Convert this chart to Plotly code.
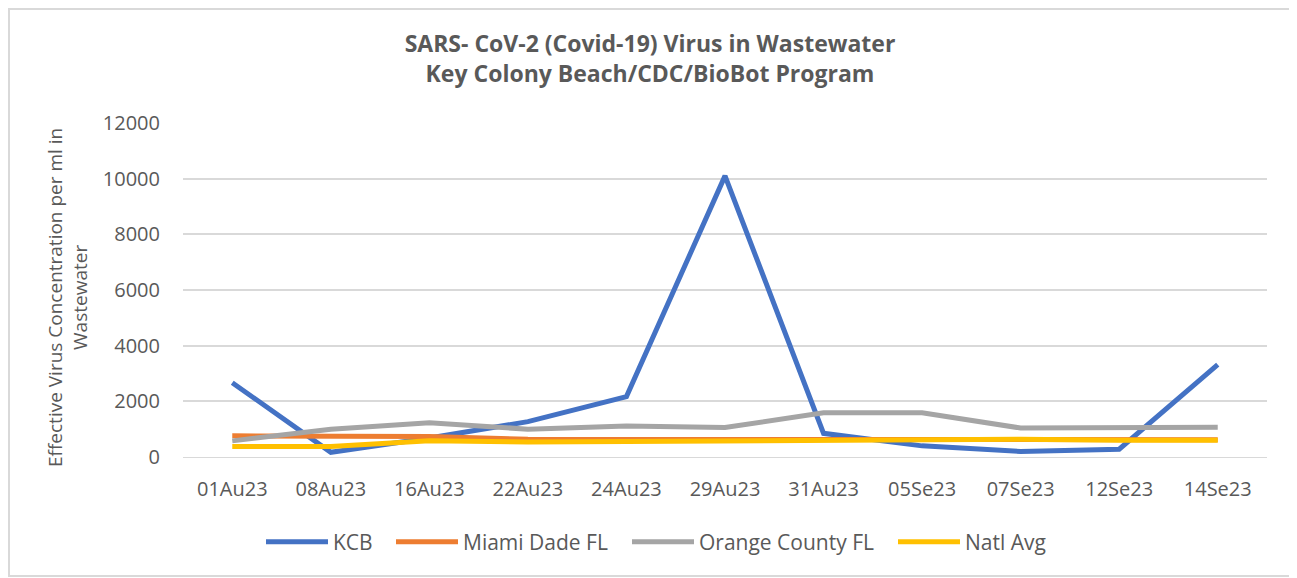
import plotly.graph_objects as go

dates = ["01Au23", "08Au23", "16Au23", "22Au23", "24Au23", "29Au23", "31Au23",
         "05Se23", "07Se23", "12Se23", "14Se23"]
kcb = [2670, 170, 680, 1270, 2170, 10100, 850, 400, 200, 280, 3320]
miami = [760, 760, 740, 640, 640, 600, 620, 630, 640, 640, 620]
orange = [580, 1000, 1230, 1000, 1110, 1060, 1590, 1590, 1040, 1070, 1070]
natl = [380, 380, 580, 540, 560, 580, 600, 620, 640, 600, 600]

names = ["KCB", "Miami Dade FL", "Orange County FL", "Natl Avg"]
values = [kcb, miami, orange, natl]
colors = ["#4472C4", "#ED7D31", "#A5A5A5", "#FFC000"]

# page offset (body margin) compensation: figure coords = screen coords - OFF
OFF = 8
W, H = 1297 - OFF, 578 - OFF
L, T = 183 - OFF, 123 - OFF
PR, PB = 1267 - OFF, 457 - OFF
R, B = W - PR, H - PB
pw, ph = PR - L, PB - T
FONT = "Open Sans, Liberation Sans, sans-serif"

legend_x = [261, 391, 627, 893]  # screen x of each legend entry
legend_keys = ["legend", "legend2", "legend3", "legend4"]

fig = go.Figure()
for name, vals, col, lk in zip(names, values, colors, legend_keys):
    fig.add_trace(go.Scatter(x=dates, y=vals, name=name, mode="lines", legend=lk,
                             line=dict(color=col, width=5)))

legend_layout = {}
for lk, sx in zip(legend_keys, legend_x):
    legend_layout[lk] = dict(orientation="h", x=(sx - OFF - L) / pw, xanchor="left",
                             y=-85 / ph, yanchor="middle", itemwidth=62,
                             font=dict(size=21, color="#595959"),
                             bgcolor="rgba(0,0,0,0)", borderwidth=0)

fig.update_layout(
    width=W, height=H,
    margin=dict(l=L, r=R, t=T, b=B),
    paper_bgcolor="white", plot_bgcolor="white",
    font=dict(family=FONT, color="#595959", size=20),
    title=dict(text="<b>SARS- CoV-2 (Covid-19) Virus in Wastewater<br>Key Colony Beach/CDC/BioBot Program</b>",
               x=(650 - OFF - L) / pw, xref="paper", xanchor="center",
               y=1 - 44 / H, yref="container", yanchor="top",
               font=dict(size=23, color="#595959")),
    xaxis=dict(type="category", range=[-0.5, 10.5], showgrid=False, showline=True,
               linecolor="#D9D9D9", linewidth=1, ticks="", ticklabelstandoff=14,
               tickfont=dict(size=20, color="#595959")),
    yaxis=dict(range=[0, 12000], dtick=2000, tickformat="d", showgrid=True,
               gridcolor="#D9D9D9", gridwidth=1.5,
               zeroline=False, showline=False, tickfont=dict(size=20, color="#595959"),
               ticklabelstandoff=22),
    annotations=[dict(text="Effective Virus Concentration per ml in<br>Wastewater",
                      textangle=-90, xref="paper", yref="paper",
                      x=(67 - OFF - L) / pw, y=1 - (298 - OFF - T) / ph,
                      xanchor="center", yanchor="middle", align="center",
                      showarrow=False, font=dict(size=19, color="#595959"))],
    showlegend=True,
    shapes=[dict(type="rect", xref="paper", yref="paper",
                 x0=(1 - L) / pw, x1=(W - 2 - L) / pw,
                 y0=-(H - 2 - PB) / ph, y1=1 + (T - 1) / ph,
                 line=dict(color="#D9D9D9", width=2), layer="below")],
    **legend_layout,
)

fig.write_html("out.html")
